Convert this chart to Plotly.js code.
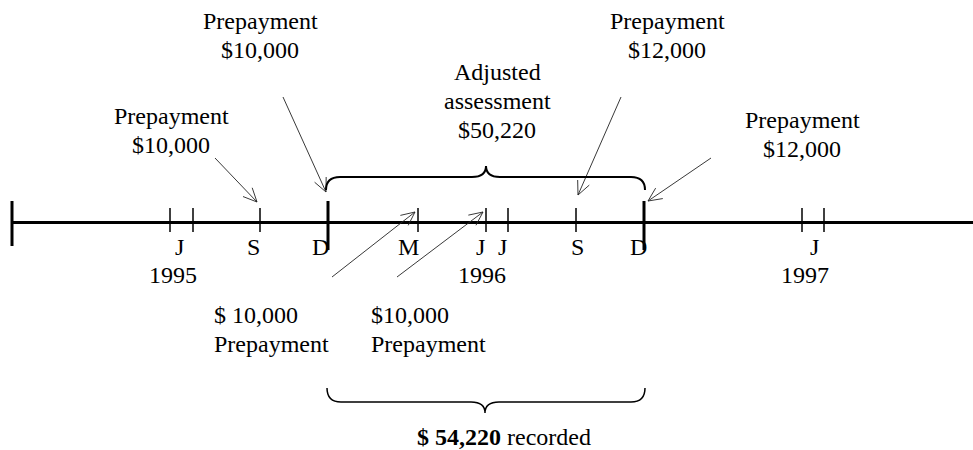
<!DOCTYPE html>
<html>
<head>
<meta charset="utf-8">
<script src="https://cdn.plot.ly/plotly-3.0.1.min.js"></script>
<style>html,body{margin:0;padding:0;background:#fff}#chart{width:973px;height:450px}</style>
</head>
<body>
<div id="chart"></div>
<script>
// ---- Timeline data (diagram units along the time line) ----
const lineStart = 12;
const lineEnd = 973;
const majorTicks = [12, 328, 644];            // start cap, Dec 1995, Dec 1996
const minorTicks = [170, 193, 260, 418, 486, 508, 576, 802, 824];
const monthLabels = ['J', 'S', 'D', 'M', 'J', 'J', 'S', 'D', 'J'];
const monthLabelPos = [179, 253, 320, 408, 480, 502, 577, 638, 814];
const yearLabels = ['1995', '1996', '1997'];
const yearLabelPos = [173, 482, 805];

// ---- Callouts (prepayments) ----
const calloutLines = [
  ['Prepayment', '$10,000'],
  ['Prepayment', '$10,000'],
  ['Prepayment', '$12,000'],
  ['Prepayment', '$12,000'],
  ['$ 10,000', 'Prepayment'],
  ['$10,000', 'Prepayment']
];
const calloutX = [260, 171, 667, 802, 212, 369];
const calloutY = [21, 116, 21, 120, 315, 345 - 30];
const calloutAlign = ['center', 'center', 'center', 'center', 'left', 'left'];
const arrowTailX = [283, 215, 621, 711, 332, 397];
const arrowTailY = [97, 158, 97, 158, 277, 277];
const arrowHeadX = [326, 257, 578, 648, 415, 483];
const arrowHeadY = [192, 202, 195, 201, 212, 212];

// ---- Braces ----
const assessmentLines = ['Adjusted', 'assessment', '$50,220'];
const assessmentX = 497;
const assessmentY = 72;
const braceFrom = [326, 327];
const braceTo = [645, 645];
const braceMid = [486, 485];
const braceLevel = [177, 402];
const braceEnds = [190, 388];
const bracePeak = [166, 413];
const recordedAmount = '$ 54,220';
const recordedWord = ' recorded';
const recordedX = 504;
const recordedY = 437;

const FONT = 'Liberation Serif, Times New Roman, serif';
const FS = 24;
const LINE_STEP = 29;

const traces = [];
// main line
traces.push({x: [lineStart, lineEnd], y: [222.5, 222.5], mode: 'lines',
  line: {color: '#000', width: 3}, hoverinfo: 'skip'});
// minor ticks
(function () {
  const xs = [], ys = [];
  minorTicks.forEach(t => { xs.push(t, t, null); ys.push(208, 232, null); });
  traces.push({x: xs, y: ys, mode: 'lines', line: {color: '#000', width: 1.5}, hoverinfo: 'skip'});
})();
// major ticks
(function () {
  const xs = [], ys = [];
  majorTicks.forEach((t, i) => { xs.push(t, t, null); ys.push(201, i === 0 ? 246 : 250, null); });
  traces.push({x: xs, y: ys, mode: 'lines', line: {color: '#000', width: 3}, hoverinfo: 'skip'});
})();
// arrows
(function () {
  const xs = [], ys = [];
  const L = 15, half = 25 * Math.PI / 180;
  for (let i = 0; i < arrowTailX.length; i++) {
    const x0 = arrowTailX[i], y0 = arrowTailY[i], x1 = arrowHeadX[i], y1 = arrowHeadY[i];
    xs.push(x0, x1, null); ys.push(y0, y1, null);
    const ang = Math.atan2(y0 - y1, x0 - x1);
    [ang + half, ang - half].forEach(a => {
      xs.push(x1, x1 + L * Math.cos(a), null);
      ys.push(y1, y1 + L * Math.sin(a), null);
    });
  }
  traces.push({x: xs, y: ys, mode: 'lines', line: {color: '#222', width: 0.9}, hoverinfo: 'skip'});
})();

// braces as shapes
const shapes = [];
for (let i = 0; i < braceFrom.length; i++) {
  const x0 = braceFrom[i], x1 = braceTo[i], xc = braceMid[i];
  const yb = braceLevel[i], ye = braceEnds[i], yp = bracePeak[i];
  const r = 14;
  const p = `M${x0},${ye} Q${x0},${yb} ${x0 + r},${yb} L${xc - r},${yb} Q${xc},${yb} ${xc},${yp} ` +
            `Q${xc},${yb} ${xc + r},${yb} L${x1 - r},${yb} Q${x1},${yb} ${x1},${ye}`;
  shapes.push({type: 'path', xref: 'x', yref: 'y', path: p,
    line: {color: '#000', width: i === 0 ? 2 : 1.5}});
}

const annotations = [];
function txt(text, x, y, anchor) {
  annotations.push({text: text, x: x, y: y, xref: 'x', yref: 'y', showarrow: false,
    xanchor: anchor || 'center', yanchor: 'middle', align: anchor || 'center',
    font: {family: FONT, size: FS, color: '#000'}});
}
monthLabels.forEach((m, i) => txt(m, monthLabelPos[i], 247));
yearLabels.forEach((m, i) => txt(m, yearLabelPos[i], 275));
calloutLines.forEach((lines, i) => {
  lines.forEach((ln, j) => txt(ln, calloutX[i], calloutY[i] + j * LINE_STEP, calloutAlign[i]));
});
assessmentLines.forEach((ln, j) => txt(ln, assessmentX, assessmentY + j * LINE_STEP));
txt('<b>' + recordedAmount + '</b>' + recordedWord, recordedX, recordedY);

const layout = {
  width: 973, height: 450,
  margin: {l: 0, r: 0, t: 0, b: 0},
  paper_bgcolor: '#fff', plot_bgcolor: '#fff',
  showlegend: false,
  xaxis: {range: [0, 973], visible: false, fixedrange: true},
  yaxis: {range: [450, 0], visible: false, fixedrange: true},
  shapes: shapes,
  annotations: annotations
};
Plotly.newPlot('chart', traces, layout, {staticPlot: true, displayModeBar: false});
</script>
</body>
</html>
